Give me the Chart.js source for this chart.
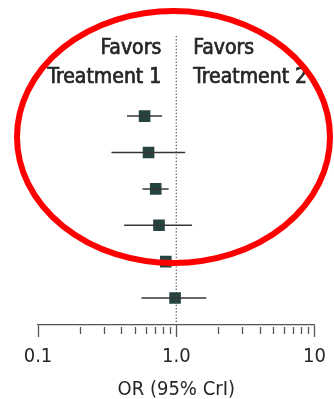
<!DOCTYPE html>
<html>
<head>
<meta charset="utf-8">
<script src="https://cdn.jsdelivr.net/npm/chart.js@4"></script>
<style>
  body { margin: 0; background: #fff; }
  #wrap { width: 334px; height: 399px; }
</style>
</head>
<body>
<div id="wrap"><canvas id="forest"></canvas></div>
<script>
// rows top to bottom
const rowPos = [1, 2, 3, 4, 5, 6];
const orValues = [0.59, 0.63, 0.71, 0.75, 0.84, 0.98];
const ciLow = [0.44, 0.34, 0.57, 0.42, 0.71, 0.56];
const ciHigh = [0.79, 1.16, 0.88, 1.30, 1.00, 1.65];

const tickValues = [0.1, 0.2, 0.3, 0.4, 0.5, 0.6, 0.7, 0.8, 0.9, 1, 2, 3, 4, 5, 6, 7, 8, 9, 10];
const majorTicks = [0.1, 1, 10];
const majorLabels = ["0.1", "1.0", "10"];

const refLine = [-1.2, 6.75]; // y extent of the OR = 1 line

const inkColor = "#262626";
const fontFam = "'DejaVu Sans Condensed', 'DejaVu Sans', sans-serif";

const datasets = [];

datasets.push({
    data: refLine.map(y => ({x: 1, y: y})),
    showLine: true,
    borderColor: "#444",
    borderWidth: 1.2,
    borderDash: [1.2, 2],
    pointRadius: 0
});

for (let i = 0; i < rowPos.length; i++) {
    datasets.push({
        data: [{x: ciLow[i], y: rowPos[i]}, {x: ciHigh[i], y: rowPos[i]}],
        showLine: true,
        borderColor: "#363636",
        borderWidth: 1.5,
        pointRadius: 0
    });
}

datasets.push({
    data: orValues.map((v, i) => ({x: v, y: rowPos[i]})),
    pointStyle: "rect",
    pointRadius: 8.2,
    backgroundColor: "#26443f",
    borderColor: "#26443f",
    borderWidth: 0
});

// short minor ticks under the axis line
const minorTicks = {
    id: "minorTicks",
    afterDraw(chart) {
        const sc = chart.scales.x;
        const ctx = chart.ctx;
        ctx.save();
        ctx.strokeStyle = "#555";
        ctx.lineWidth = 1.3;
        sc.ticks.forEach(t => {
            if (majorTicks.includes(t.value)) {return ;}
            const px = Math.round(sc.getPixelForValue(t.value)) + 0.5;
            ctx.beginPath();
            ctx.moveTo(px, sc.top + 2);
            ctx.lineTo(px, sc.top + 9);
            ctx.stroke();
        });
        ctx.restore();
    }
};

// "Favors" headings on both sides of OR = 1
const favorLabels = {
    id: "favorLabels",
    afterDraw(chart) {
        const ctx = chart.ctx;
        const mid = chart.scales.x.getPixelForValue(1);
        const put = (txt, x, y) => {
            ctx.fillText(txt, x, y);
            ctx.strokeText(txt, x, y);
        };
        ctx.save();
        ctx.fillStyle = inkColor;
        ctx.strokeStyle = inkColor;
        ctx.lineWidth = 0.7;
        ctx.font = "21px " + fontFam;
        ctx.textBaseline = "alphabetic";
        ctx.textAlign = "right";
        put("Favors", mid - 15, 54);
        put("Treatment 1", mid - 15, 83);
        ctx.textAlign = "left";
        put("Favors", mid + 17, 54);
        put("Treatment 2", mid + 17, 83);
        ctx.restore();
    }
};

// red highlight ring
const ring = {
    id: "ring",
    afterDraw(chart) {
        const ctx = chart.ctx;
        ctx.save();
        ctx.strokeStyle = "#ff0000";
        ctx.lineWidth = 6;
        ctx.beginPath();
        ctx.ellipse(173.5, 137, 156.5, 126, 0, 0, Math.PI * 2);
        ctx.stroke();
        ctx.restore();
    }
};

new Chart(document.getElementById("forest"), {
    type: "scatter",
    data: {datasets: datasets},
    options: {
        responsive: true,
        maintainAspectRatio: false,
        animation: false,
        layout: {padding: {left: 38, right: 17, top: 20, bottom: -3}},
        plugins: {legend: {display: false}, tooltip: {enabled: false}},
        scales: {
            x: {
                type: "logarithmic",
                min: 0.1,
                max: 10,
                afterBuildTicks: sc => {
                    sc.ticks = tickValues.map(v => ({value: v, major: majorTicks.includes(v)}));
                },
                grid: {
                    drawOnChartArea: false,
                    tickLength: 12,
                    tickWidth: 1.3,
                    tickColor: ctx => (ctx.tick && majorTicks.includes(ctx.tick.value)) ? "#555" : "rgba(0,0,0,0)"
                },
                border: {display: true, color: "#555", width: 1.3},
                ticks: {
                    autoSkip: false,
                    maxRotation: 0,
                    padding: 8,
                    color: inkColor,
                    font: {family: fontFam, size: 20},
                    callback: v => {
                        const k = majorTicks.indexOf(v);
                        return k >= 0 ? majorLabels[k] : "";
                    }
                },
                title: {
                    display: true,
                    text: "OR (95% CrI)",
                    color: inkColor,
                    font: {family: fontFam, size: 20},
                    padding: {top: 1, bottom: 0}
                }
            },
            y: {
                display: false,
                reverse: true,
                min: -1.64,
                max: 6.74
            }
        }
    },
    plugins: [minorTicks, favorLabels, ring]
});
</script>
</body>
</html>
